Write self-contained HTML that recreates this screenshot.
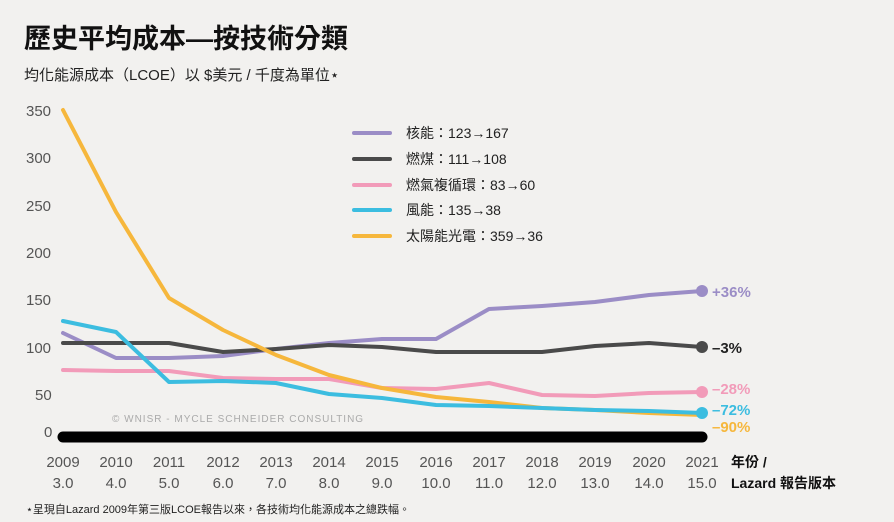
<!DOCTYPE html><html><head><meta charset="utf-8"><style>
body{margin:0;background:#f2f1ef;}
svg{display:block;font-family:"Liberation Sans","Noto Sans CJK TC",sans-serif;}
</style></head><body>
<svg width="894" height="522" viewBox="0 0 894 522">
<rect width="894" height="522" fill="#f2f1ef"/>
<text x="24" y="48" font-size="27" font-weight="bold" fill="#111">歷史平均成本—按技術分類</text>
<text x="24" y="80" font-size="15" fill="#222">均化能源成本（LCOE）以 $美元 / 千度為單位⋆</text>
<g font-size="15" fill="#555" text-anchor="start">
<text x="26" y="116">350</text><text x="26" y="163">300</text><text x="26" y="211">250</text>
<text x="26" y="258">200</text><text x="26" y="305">150</text><text x="26" y="353">100</text>
<text x="35" y="400">50</text><text x="44" y="437">0</text>
</g>
<text x="112" y="422" font-size="10" fill="#aaa" letter-spacing="1">© WNISR - MYCLE SCHNEIDER CONSULTING</text>
<g fill="none" stroke-width="4" stroke-linejoin="round" stroke-linecap="round">
<polyline stroke="#9b8dc6" points="63,333 116,358 169,358 223,356 276,349 329,343 382,339 436,339 489,309 542,306 595,302 649,295 702,291"/>
<polyline stroke="#4a4a4a" points="63,343 116,343 169,343 223,352 276,349 329,345 382,347 436,352 489,352 542,352 595,346 649,343 702,347"/>
<polyline stroke="#f29bb9" points="63,370 116,371 169,371 223,378 276,379 329,379 382,388 436,389 489,383 542,395 595,396 649,393 702,392"/>
<polyline stroke="#f6b73c" points="63,110 116,212 169,298 223,330 276,355 329,375 382,388 436,397 489,402 542,408 595,410 649,413 702,415"/>
<polyline stroke="#3cbde0" points="63,321 116,332 169,382 223,381 276,383 329,394 382,398 436,405 489,406 542,408 595,410 649,411 702,413"/>
</g>
<circle cx="702" cy="291" r="6" fill="#9b8dc6"/><circle cx="702" cy="347" r="6" fill="#4a4a4a"/>
<circle cx="702" cy="392" r="6" fill="#f29bb9"/><circle cx="702" cy="413" r="6" fill="#3cbde0"/>
<g font-size="15" font-weight="bold">
<text x="712" y="297" fill="#9b8dc6">+36%</text><text x="712" y="353" fill="#222">–3%</text>
<text x="712" y="394" fill="#f29bb9">–28%</text><text x="712" y="415" fill="#3cbde0">–72%</text>
<text x="712" y="432" fill="#f6b73c">–90%</text>
</g>
<line x1="63" y1="437" x2="702" y2="437" stroke="#000" stroke-width="11" stroke-linecap="round"/>
<g font-size="15" fill="#555" text-anchor="middle">
<text x="63" y="467">2009</text><text x="116" y="467">2010</text><text x="169" y="467">2011</text><text x="223" y="467">2012</text><text x="276" y="467">2013</text><text x="329" y="467">2014</text><text x="382" y="467">2015</text><text x="436" y="467">2016</text><text x="489" y="467">2017</text><text x="542" y="467">2018</text><text x="595" y="467">2019</text><text x="649" y="467">2020</text><text x="702" y="467">2021</text>
<text x="63" y="488">3.0</text><text x="116" y="488">4.0</text><text x="169" y="488">5.0</text><text x="223" y="488">6.0</text><text x="276" y="488">7.0</text><text x="329" y="488">8.0</text><text x="382" y="488">9.0</text><text x="436" y="488">10.0</text><text x="489" y="488">11.0</text><text x="542" y="488">12.0</text><text x="595" y="488">13.0</text><text x="649" y="488">14.0</text><text x="702" y="488">15.0</text>
</g>
<text x="731" y="467" font-size="14" font-weight="bold" fill="#111">年份 /</text>
<text x="731" y="488" font-size="14" font-weight="bold" fill="#111">Lazard 報告版本</text>
<g stroke-width="4" stroke-linecap="round">
<line x1="354" y1="133" x2="390" y2="133" stroke="#9b8dc6"/>
<line x1="354" y1="159" x2="390" y2="159" stroke="#4a4a4a"/>
<line x1="354" y1="185" x2="390" y2="185" stroke="#f29bb9"/>
<line x1="354" y1="210" x2="390" y2="210" stroke="#3cbde0"/>
<line x1="354" y1="236" x2="390" y2="236" stroke="#f6b73c"/>
</g>
<g font-size="14" fill="#222">
<text x="406" y="138">核能：123→167</text><text x="406" y="164">燃煤：111→108</text>
<text x="406" y="190">燃氣複循環：83→60</text><text x="406" y="215">風能：135→38</text>
<text x="406" y="241">太陽能光電：359→36</text>
</g>
<text x="26" y="513" font-size="11" fill="#222">⋆呈現自Lazard 2009年第三版LCOE報告以來，各技術均化能源成本之總跌幅。</text>
</svg></body></html>
